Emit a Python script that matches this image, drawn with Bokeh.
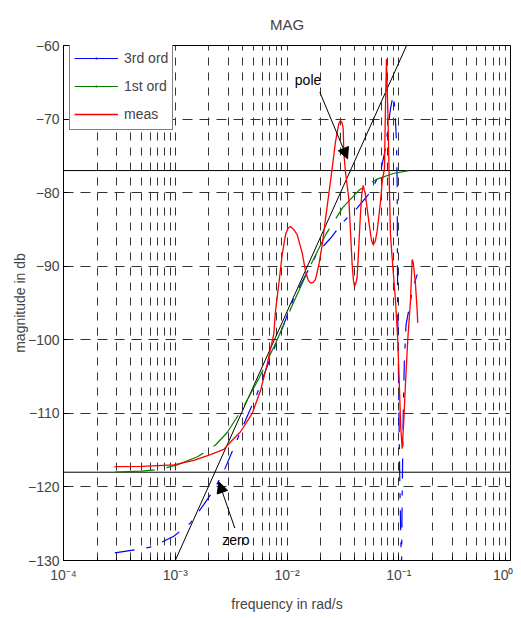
import numpy as np
from bokeh.plotting import figure
from bokeh.models import (ColumnDataSource, Legend, LegendItem, FixedTicker,
                          CustomJSTickFormatter, Arrow, NormalHead, Range1d)
from bokeh.embed import file_html
from bokeh.resources import INLINE
from bokeh.core.properties import value

# ---------------- data (frequency given as log10 of rad/s) ----------------
meas_log10_freq = [-3.544, -3.30, -3.013, -2.834, -2.685, -2.566, -2.506, -2.416, -2.311,
                   -2.237, -2.177, -2.118, -2.103, -2.070, -2.043, -2.013, -1.990, -1.969,
                   -1.940, -1.909, -1.864, -1.834, -1.810, -1.790, -1.765, -1.745, -1.715,
                   -1.685, -1.655, -1.611, -1.566, -1.536, -1.521, -1.507, -1.497, -1.492,
                   -1.477, -1.447, -1.432, -1.417, -1.405, -1.396, -1.385, -1.373, -1.358,
                   -1.343, -1.330, -1.318, -1.298, -1.268, -1.245, -1.229, -1.210, -1.194,
                   -1.163, -1.148, -1.128, -1.119, -1.110, -1.098, -1.083, -1.074, -1.059,
                   -1.029, -1.010, -0.995, -0.982, -0.969, -0.955, -0.940, -0.919, -0.895,
                   -0.880, -0.870, -0.850, -0.835, -0.830]
meas_db = [-117.25, -117.2, -117.0, -116.4, -115.6, -114.9, -113.9, -112.5, -110.0,
           -106.9, -103.3, -99.2, -96.1, -92.0, -88.4, -85.7, -84.8, -84.6,
           -85.0, -85.7, -88.2, -90.7, -91.9, -92.3, -92.2, -91.8, -89.8,
           -87.1, -83.5, -78.5, -73.1, -70.6, -70.2, -70.5, -71.3, -74.5,
           -77.2, -80.8, -85.3, -89.8, -92.0, -92.7, -92.4, -91.6, -87.5,
           -83.0, -80.0, -79.0, -80.3, -83.9, -86.4, -87.1, -86.6, -85.3,
           -81.2, -78.5, -76.7, -68.6, -61.85, -68.6, -79.9, -85.7, -88.9,
           -94.7, -99.7, -106.0, -112.0, -114.8, -111.0, -106.0, -99.9, -94.7,
           -89.1, -89.5, -92.5, -96.1, -97.7]

first_log10_freq = [-3.541, -3.30, -3.132, -2.983, -2.80, -2.640, -2.535, -2.40, -2.25,
                    -2.10, -1.95, -1.80, -1.65, -1.50, -1.35, -1.20, -1.05, -0.91]
first_db = [-117.97, -117.85, -117.6, -117.0, -115.9, -114.3, -112.6, -109.4, -105.2,
            -100.4, -95.2, -90.2, -85.6, -82.0, -79.6, -78.2, -77.4, -77.0]

third_log10_freq = [-3.541, -3.341, -3.192, -3.132, -3.013, -2.864, -2.745, -2.655, -2.566,
                    -2.416, -2.267, -2.148, -2.074, -1.939, -1.730, -1.611, -1.492, -1.373,
                    -1.253, -1.163, -1.119, -1.074, -1.050, -1.035, -1.020, -1.014, -1.010,
                    -1.000, -0.990, -0.980, -0.975, -0.970, -0.960, -0.950, -0.935, -0.895,
                    -0.880, -0.835]
third_db = [-128.96, -128.5, -128.1, -127.6, -126.7, -124.9, -122.4, -120.4, -117.9,
            -112.5, -107.3, -102.4, -99.7, -94.3, -88.2, -86.2, -83.9, -82.1,
            -79.9, -77.2, -74.0, -68.6, -66.7, -68.5, -73.1, -79.0, -95.0,
            -108.0, -120.0, -128.0, -131.0, -122.0, -110.0, -103.0, -98.0, -94.7,
            -93.4, -91.1]

asym_log10_freq = [-3.0, -0.93]
asym_db = [-130.0, -60.0]
low_level_db = -118.0
high_level_db = -77.0
full_log10_freq = [-4.0, 0.0]

x_decades = [1e-4, 1e-3, 1e-2, 1e-1, 1.0]
x_minor = [m * d for d in [1e-4, 1e-3, 1e-2, 1e-1] for m in range(2, 10)]
y_ticks = [-130, -120, -110, -100, -90, -80, -70, -60]

FONT = "Liberation Sans"

p = figure(width=513, height=614, x_axis_type="log",
           x_range=Range1d(1e-4, 1), y_range=Range1d(-130, -60),
           output_backend="svg", toolbar_location=None, title="MAG",
           min_border_left=63, min_border_right=3, min_border_top=43,
           min_border_bottom=53)

p.title.align = "center"
p.title.text_font = FONT
p.title.text_font_size = "15px"
p.title.text_font_style = "normal"
p.title.standoff = 26
p.outline_line_color = "black"
p.outline_line_alpha = 1
p.background_fill_color = "white"
p.border_fill_color = "white"

# axes
p.xaxis.ticker = FixedTicker(ticks=x_decades, minor_ticks=x_minor)
p.xaxis.formatter = CustomJSTickFormatter(code="""
const e = Math.round(Math.log10(tick));
const sup = {'-':'\u207b','0':'\u2070','1':'\u00b9','2':'\u00b2','3':'\u00b3','4':'\u2074'};
return '10' + String(e).split('').map(c => sup[c]).join('');
""")
p.yaxis.ticker = FixedTicker(ticks=y_ticks)
p.xaxis.axis_label = "frequency in rad/s"
p.yaxis.axis_label = "magnitude in db"
for ax in (p.xaxis[0], p.yaxis[0]):
    ax.axis_label_text_font = FONT
    ax.axis_label_text_font_size = "14px"
    ax.axis_label_text_font_style = "normal"
    ax.major_label_text_font = FONT
    ax.major_label_text_font_size = "14px"
    ax.major_tick_in = 5
    ax.major_tick_out = 0
    ax.minor_tick_in = 3
    ax.minor_tick_out = 0
    ax.axis_line_color = "black"
    ax.major_tick_line_color = "black"
    ax.minor_tick_line_color = "black"
p.yaxis.minor_tick_line_color = None
p.xaxis.major_label_standoff = 6
p.xaxis.axis_label_standoff = 10
p.yaxis.major_label_standoff = 4
p.yaxis.axis_label_standoff = -3

# grid
p.xgrid.grid_line_color = "#333333"
p.xgrid.grid_line_dash = "8 7"
p.xgrid.minor_grid_line_color = "#333333"
p.xgrid.minor_grid_line_dash = "8 7"
p.ygrid.grid_line_color = "#333333"
p.ygrid.grid_line_dash = "10 7"

# data sources
src_meas = ColumnDataSource(dict(f=10 ** np.array(meas_log10_freq), db=meas_db))
src_first = ColumnDataSource(dict(f=10 ** np.array(first_log10_freq), db=first_db))
src_third = ColumnDataSource(dict(f=10 ** np.array(third_log10_freq), db=third_db))

# asymptote lines
p.line(10 ** np.array(full_log10_freq), [high_level_db, high_level_db], line_color="black", line_width=1)
p.line(10 ** np.array(full_log10_freq), [low_level_db, low_level_db], line_color="black", line_width=1)
p.line(10 ** np.array(asym_log10_freq), asym_db, line_color="black", line_width=1)

p.line("f", "db", source=src_third, line_color="#0000ff", line_width=1.2,
       line_dash="20 12 5 12")
p.line("f", "db", source=src_first, line_color="#008000", line_width=1.2,
       line_dash="40 12")
r_meas = p.line("f", "db", source=src_meas, line_color="#ff0000", line_width=1.3)

# legend-only proxies (no visible data): line + small dot marker, as in the original legend
nan_src = ColumnDataSource(dict(x=[np.nan], y=[np.nan]))
lg_third_line = p.line("x", "y", source=nan_src, line_color="#0000ff", line_width=1.2)
lg_third_dot = p.scatter("x", "y", source=nan_src, marker="dot", size=4,
                         fill_color="#0000ff", line_color="#0000ff", line_width=2)
lg_first_line = p.line("x", "y", source=nan_src, line_color="#008000", line_width=1.2)
lg_first_dot = p.scatter("x", "y", source=nan_src, marker="dot", size=4,
                         fill_color="#008000", line_color="#008000", line_width=2)

# annotations
p.text(x=[10 ** -1.93], y=[-64.7], text=["pole"], text_font=value(FONT),
       text_font_size="14px", text_align="left", text_baseline="middle", text_color="black")
p.text(x=[10 ** -2.58], y=[-127.2], text=["zero"], text_font=value(FONT),
       text_font_size="14px", text_align="left", text_baseline="middle", text_color="black")
p.add_layout(Arrow(end=NormalHead(size=11, fill_color="black", line_color="black"),
                   x_start=10 ** -1.706, y_start=-66.35, x_end=10 ** -1.458, y_end=-75.4,
                   line_color="black", line_width=1))
p.add_layout(Arrow(end=NormalHead(size=11, fill_color="black", line_color="black"),
                   x_start=10 ** -2.467, y_start=-125.6, x_end=10 ** -2.610, y_end=-119.3,
                   line_color="black", line_width=1))

legend = Legend(items=[LegendItem(label="3rd ord", renderers=[lg_third_line, lg_third_dot]),
                       LegendItem(label="1st ord", renderers=[lg_first_line, lg_first_dot]),
                       LegendItem(label="meas", renderers=[r_meas])],
                location=(6, 430), padding=4, spacing=6, glyph_height=22, label_height=22,
                glyph_width=44, label_standoff=6, border_line_color="black",
                border_line_width=1, background_fill_color="white", background_fill_alpha=1,
                label_text_font=FONT, label_text_font_size="14px")
p.add_layout(legend)

open("out.html", "w").write(file_html(p, INLINE))
